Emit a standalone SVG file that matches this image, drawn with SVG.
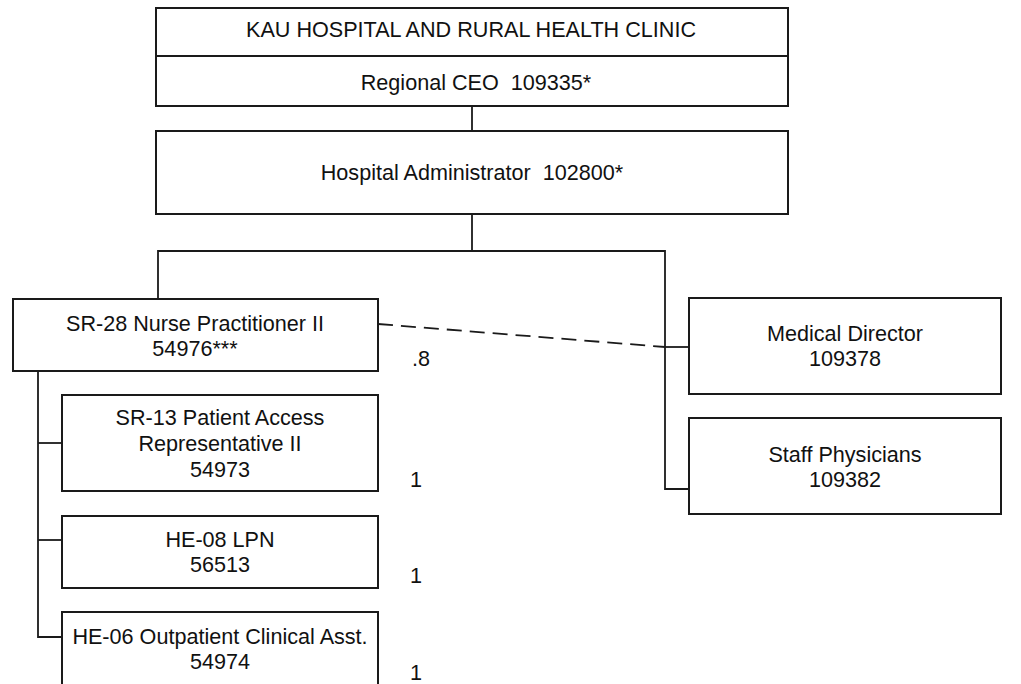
<svg xmlns="http://www.w3.org/2000/svg" width="1021" height="684" viewBox="0 0 1021 684">
<style>
.box{fill:#fff;stroke:#1a1a1a;stroke-width:2}
.ln{fill:none;stroke:#1a1a1a;stroke-width:1.8}
.dash{fill:none;stroke:#1a1a1a;stroke-width:1.8;stroke-dasharray:15 8}
text{font-family:"Liberation Sans",Arial,sans-serif;font-size:21.6px;fill:#111;text-anchor:middle;white-space:pre}
.lbl{text-anchor:start}
</style>
<rect width="1021" height="684" fill="#fff"/>
<g id="connectors">
<line class="ln" x1="472" y1="106" x2="472" y2="131"/>
<line class="ln" x1="472" y1="214" x2="472" y2="251"/>
<polyline class="ln" points="158,299 158,251 665,251 665,489 689,489"/>
<line class="ln" x1="665" y1="347" x2="689" y2="347"/>
<line class="dash" x1="378" y1="324" x2="665" y2="347"/>
<polyline class="ln" points="38,371 38,637 62,637"/>
<line class="ln" x1="38" y1="443" x2="62" y2="443"/>
<line class="ln" x1="38" y1="540" x2="62" y2="540"/>
</g>
<g id="kau">
<rect class="box" x="156" y="8" width="632" height="98"/>
<line class="ln" x1="156" y1="56" x2="788" y2="56"/>
<text x="471" y="37">KAU HOSPITAL AND RURAL HEALTH CLINIC</text>
<text x="476" y="90" xml:space="preserve">Regional CEO  109335*</text>
</g>
<g id="admin">
<rect class="box" x="156" y="131" width="632" height="83"/>
<text x="472" y="180" xml:space="preserve">Hospital Administrator  102800*</text>
</g>
<g id="np">
<rect class="box" x="13" y="299" width="365" height="72"/>
<text x="195" y="331">SR-28 Nurse Practitioner II</text>
<text x="195" y="356">54976***</text>
</g>
<g id="md">
<rect class="box" x="689" y="298" width="312" height="96"/>
<text x="845" y="341">Medical Director</text>
<text x="845" y="366">109378</text>
</g>
<g id="sp">
<rect class="box" x="689" y="418" width="312" height="96"/>
<text x="845" y="462">Staff Physicians</text>
<text x="845" y="487">109382</text>
</g>
<g id="par">
<rect class="box" x="62" y="395" width="316" height="96"/>
<text x="220" y="425">SR-13 Patient Access</text>
<text x="220" y="451">Representative II</text>
<text x="220" y="477">54973</text>
</g>
<g id="lpn">
<rect class="box" x="62" y="516" width="316" height="72"/>
<text x="220" y="547">HE-08 LPN</text>
<text x="220" y="572">56513</text>
</g>
<g id="oca">
<rect class="box" x="62" y="612" width="316" height="90"/>
<text x="220" y="644">HE-06 Outpatient Clinical Asst.</text>
<text x="220" y="669">54974</text>
</g>
<g id="labels">
<text class="lbl" x="412" y="366">.8</text>
<text class="lbl" x="410" y="487">1</text>
<text class="lbl" x="410" y="583">1</text>
<text class="lbl" x="410" y="680">1</text>
</g>
</svg>
